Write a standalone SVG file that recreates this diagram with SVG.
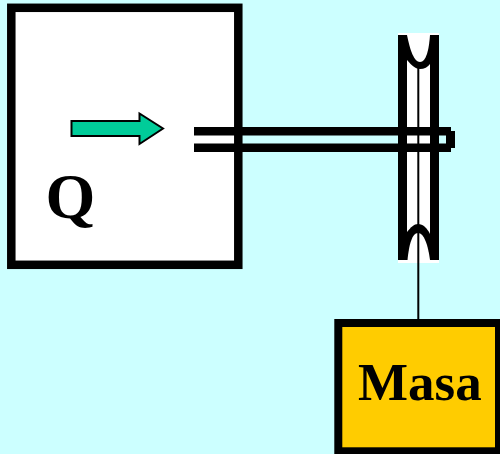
<svg xmlns="http://www.w3.org/2000/svg" width="500" height="454" viewBox="0 0 500 454">
<style>
.k{fill:#000}
.w{fill:#fff}
.box{stroke:#000;stroke-width:8.500}
.t{font-family:"Liberation Serif","Times New Roman",serif;font-weight:bold;fill:#000}
</style>
<rect width="500" height="454" fill="#ccffff"/>
<g id="tank">
<rect class="box" x="11.300" y="7.800" width="227" height="257" fill="#fff"/>
<text class="t" x="45.500" y="218" font-size="64">Q</text>
</g>
<g id="flow-arrow">
<path d="M71.500 121H139.500V113.500L163 128.500L139.500 144V136H71.500Z" fill="#00cc99" stroke="#000" stroke-width="2"/>
</g>
<g id="pulley">
<rect class="w" x="398" y="33" width="41" height="230"/>
<rect class="k" x="398" y="35" width="9" height="225"/>
<rect class="k" x="430" y="35" width="9" height="225"/>
<path class="k" d="M407 35V60C412 66 416 69 420 69C424 69 428 67 430 64V35Z"/>
<path class="w" d="M407 33V35C410 50 414 62 420 62C426 62 429 50 430 35V33Z"/>
<path class="k" d="M407 260V232C411 227 414 224 418 224C423 224 427 228 430 234V260Z"/>
<path class="w" d="M407.500 263V260C409 245 412 233 418 233C424 233 428 245 430 260V263Z"/>
</g>
<g id="connectors">
<rect class="k" x="417.300" y="66" width="2" height="254"/>
<rect class="k" x="194" y="127" width="257" height="8.500"/>
<rect class="k" x="194" y="143.500" width="257" height="8.500"/>
<rect class="k" x="446" y="131" width="9" height="17"/>
</g>
<g id="masa">
<rect class="box" x="338.300" y="323" width="160.700" height="128.300" fill="#ffcc00" style="stroke-width:8"/>
<text class="t" x="358" y="400" font-size="53">Masa</text>
</g>
</svg>
